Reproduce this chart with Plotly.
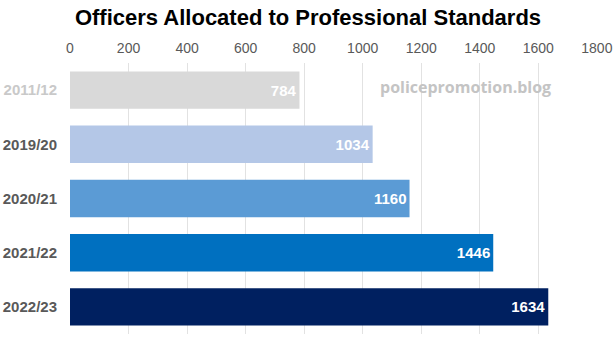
import plotly.graph_objects as go

years = ["2011/12", "2019/20", "2020/21", "2021/22", "2022/23"]
officers = [784, 1034, 1160, 1446, 1634]
bar_colors = ["#d9d9d9", "#b4c7e7", "#5b9bd5", "#0070c0", "#002060"]
label_colors = ["#c9c9c9", "#595959", "#595959", "#595959", "#595959"]
x_ticks = list(range(0, 1801, 200))

fig = go.Figure(
    go.Bar(
        y=years,
        x=officers,
        orientation="h",
        marker=dict(color=bar_colors, line=dict(width=0)),
        text=[str(v) for v in officers],
        texttemplate="<b>%{text}</b>",
        textposition="inside",
        insidetextanchor="end",
        textfont=dict(color="white", size=15, family="Liberation Sans Narrow, Liberation Sans, Arial"),
        width=0.69,
        cliponaxis=False,
    )
)

fig.update_layout(
    width=616,
    height=337,
    margin=dict(l=70, r=14, t=63, b=3),
    paper_bgcolor="white",
    plot_bgcolor="white",
    showlegend=False,
    title=dict(
        text="<b>Officers Allocated to Professional Standards</b>",
        x=0.5,
        xanchor="center",
        y=0.95,
        yanchor="middle",
        font=dict(size=22, color="black", family="Liberation Sans, Arial"),
    ),
    xaxis=dict(
        side="top",
        range=[0, 1800.5],
        tickvals=x_ticks,
        ticktext=[str(v) for v in x_ticks],
        showgrid=True,
        gridcolor="#e2e2e2",
        gridwidth=1,
        zeroline=False,
        showline=False,
        ticks="",
        ticklabelstandoff=6,
        ticklabeloverflow="allow",
        tickfont=dict(size=14, color="#595959", family="Liberation Sans Narrow, Liberation Sans, Arial"),
        fixedrange=True,
    ),
    yaxis=dict(
        autorange="reversed",
        tickvals=years,
        ticktext=[f"<b><span style='color:{c}'>{y}</span></b>" for y, c in zip(years, label_colors)],
        showgrid=False,
        zeroline=False,
        showline=False,
        ticks="",
        ticklabelstandoff=12,
        tickfont=dict(size=15, color="#595959", family="Liberation Sans Narrow, Liberation Sans, Arial"),
        fixedrange=True,
    ),
    annotations=[
        dict(
            text="<b>policepromotion.blog</b>",
            x=0.75,
            y=0.91,
            xref="paper",
            yref="paper",
            xanchor="center",
            yanchor="middle",
            showarrow=False,
            font=dict(size=16, color="#c4c4c4", family="Open Sans, DejaVu Sans"),
        )
    ],
)

fig.write_html("out.html")
